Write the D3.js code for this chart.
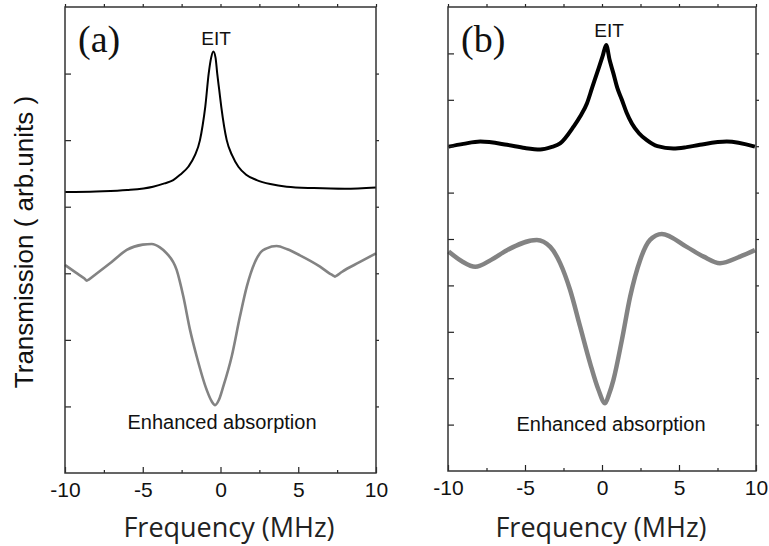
<!DOCTYPE html>
<html>
<head>
<meta charset="utf-8">
<script src="https://cdn.jsdelivr.net/npm/d3@7"></script>
<style>
  body { margin: 0; background: #fff; }
  text { fill: #111; }
</style>
</head>
<body>
<script>
// panel (a): EIT trace (black) and enhanced absorption trace (grey)
var eitA_freq = [-10, -8, -6, -4.34, -3.6, -3.04, -2.6, -2.07, -1.65, -1.32, -1.15, -0.98, -0.76, -0.6, -0.46, -0.32, -0.21, -0.08, 0.05, 0.4, 0.75, 1.15, 1.65, 2.33, 3.2, 4.26, 6, 8, 10]
var eitA_val  = [4.22, 4.23, 4.25, 4.30, 4.35, 4.40, 4.48, 4.60, 4.77, 5.00, 5.22, 5.50, 6.00, 6.24, 6.33, 6.24, 6.00, 5.75, 5.50, 5.00, 4.77, 4.60, 4.48, 4.40, 4.34, 4.30, 4.28, 4.27, 4.29]

var absA_freq = [-10, -9.3, -8.75, -8.6, -8.45, -8.0, -7.0, -6.03, -5.0, -4.42, -3.9, -3.46, -2.82, -2.39, -1.96, -1.53, -0.89, -0.55, -0.35, -0.1, 0.18, 0.72, 1.25, 1.69, 2.22, 2.6, 2.97, 3.61, 4.3, 5.11, 6.4, 7.0, 7.22, 7.36, 7.5, 7.8, 8.97, 10]
var absA_val  = [3.125, 3.01, 2.92, 2.89, 2.91, 2.99, 3.17, 3.35, 3.43, 3.44, 3.39, 3.30, 3.05, 2.65, 2.15, 1.75, 1.25, 1.07, 1.02, 1.10, 1.30, 1.75, 2.35, 2.80, 3.17, 3.32, 3.375, 3.41, 3.36, 3.27, 3.10, 3.00, 2.97, 2.95, 2.97, 3.02, 3.17, 3.30]

// panel (b)
var eitB_freq = [-9.96, -9, -7.9, -6.17, -5, -4.01, -3.3, -2.72, -1.85, -1.4, -0.98, -0.65, -0.33, 0.05, 0.27, 0.5, 0.74, 1.0, 1.29, 1.6, 1.94, 2.4, 2.91, 3.6, 4.63, 5.5, 6.36, 8.1, 9.93]
var eitB_val  = [6.99, 7.05, 7.10, 7.03, 6.96, 6.93, 6.98, 7.06, 7.42, 7.65, 7.92, 8.25, 8.57, 8.95, 9.18, 8.85, 8.57, 8.25, 8.00, 7.72, 7.49, 7.28, 7.13, 7.00, 6.95, 6.98, 7.03, 7.10, 6.99]

var absB_freq = [-9.96, -9.1, -8.23, -7.2, -6.17, -4.23, -3.36, -2.72, -2.07, -1.42, -0.77, -0.23, 0.2, 0.45, 0.74, 1.29, 1.83, 2.48, 3.12, 3.88, 5.5, 6.6, 7.66, 8.96, 9.93]
var absB_val  = [4.73, 4.52, 4.40, 4.55, 4.76, 4.98, 4.83, 4.48, 3.90, 3.11, 2.32, 1.75, 1.46, 1.65, 1.96, 2.82, 3.76, 4.55, 4.98, 5.11, 4.83, 4.62, 4.48, 4.62, 4.76]

var xMajor = [-10, -5, 0, 5, 10]
var xMinor = [-7.5, -2.5, 2.5, 7.5]
var yTicksA = [1, 2, 3, 4, 5, 6]
var yTicksB = [1, 2, 3, 4, 5, 6, 7, 8, 9]

var svg = d3.select("body").append("svg")
  .attr("width", 769)
  .attr("height", 546)

function zip(xs, ys) { return xs.map((x, i) => [x, ys[i]]) }

function panel(opt) {
  var x = d3.scaleLinear().domain([-10, 10]).range([opt.x0, opt.x1])
  var y = d3.scaleLinear().domain([0, opt.ymax]).range([opt.y1, opt.y0])
  var g = svg.append("g")

  var line = d3.line()
    .x(d => x(d[0]))
    .y(d => y(d[1]))
    .curve(d3.curveMonotoneX)

  g.append("path").datum(zip(opt.absF, opt.absV))
    .attr("fill", "none").attr("stroke", "#838383")
    .attr("stroke-width", opt.wGrey).attr("stroke-linejoin", "round")
    .attr("d", line)
  g.append("path").datum(zip(opt.eitF, opt.eitV))
    .attr("fill", "none").attr("stroke", "#000")
    .attr("stroke-width", opt.wBlack).attr("stroke-linejoin", "round")
    .attr("d", line)

  // axes, ticks inward on left and bottom, short outward ticks top and right
  var bottom = g.append("g").attr("transform", "translate(0," + opt.y1 + ")")
    .call(d3.axisBottom(x).tickValues(xMajor).tickSize(-6).tickPadding(9).tickFormat(d => String(d)))
  bottom.selectAll("text").attr("font-family", "Liberation Sans, Arial, sans-serif").attr("font-size", 21).style("fill", "#111")
  g.append("g").attr("transform", "translate(0," + opt.y1 + ")")
    .call(d3.axisBottom(x).tickValues(xMinor).tickSize(-3).tickFormat(""))
  g.append("g").attr("transform", "translate(0," + opt.y0 + ")")
    .call(d3.axisTop(x).tickValues(xMajor.concat(xMinor)).tickSize(3).tickFormat(""))
  g.append("g").attr("transform", "translate(" + opt.x0 + ",0)")
    .call(d3.axisLeft(y).tickValues(opt.yTicks).tickSize(-6).tickFormat(""))
  g.append("g").attr("transform", "translate(" + opt.x1 + ",0)")
    .call(d3.axisRight(y).tickValues(opt.yTicks).tickSize(3).tickFormat(""))
  g.selectAll(".domain").remove()
  g.selectAll(".tick line").attr("stroke", "#222").attr("stroke-width", 1.2)

  g.append("rect")
    .attr("x", opt.x0).attr("y", opt.y0)
    .attr("width", opt.x1 - opt.x0).attr("height", opt.y1 - opt.y0)
    .attr("fill", "none").attr("stroke", "#333").attr("stroke-width", 1.5)

  g.append("text").text(opt.tag)
    .attr("x", opt.x0 + 13).attr("y", opt.y0 + 45)
    .attr("font-family", "Liberation Serif, Times New Roman, serif").attr("font-size", 38)

  g.append("text").text("EIT")
    .attr("x", opt.eitX).attr("y", opt.eitY)
    .attr("text-anchor", "middle")
    .attr("font-family", "Liberation Sans, Arial, sans-serif").attr("font-size", 19)

  g.append("text").text("Enhanced absorption")
    .attr("x", opt.absX).attr("y", opt.absY)
    .attr("text-anchor", "middle")
    .attr("font-family", "Liberation Sans, Arial, sans-serif").attr("font-size", 20)

  g.append("text").text("Frequency (MHz)")
    .attr("x", opt.titleX).attr("y", 537)
    .attr("text-anchor", "middle")
    .attr("font-family", "Open Sans, sans-serif").attr("font-size", 27)
    .style("fill", "#222")
}

panel({
  tag: "(a)", x0: 65, x1: 376, y0: 7, y1: 473, ymax: 7, yTicks: yTicksA,
  eitF: eitA_freq, eitV: eitA_val, absF: absA_freq, absV: absA_val,
  wBlack: 2, wGrey: 2.6,
  eitX: 216, eitY: 45, absX: 222, absY: 429, titleX: 229
})

panel({
  tag: "(b)", x0: 448, x1: 756, y0: 7, y1: 471, ymax: 10, yTicks: yTicksB,
  eitF: eitB_freq, eitV: eitB_val, absF: absB_freq, absV: absB_val,
  wBlack: 4, wGrey: 4.5,
  eitX: 609, eitY: 37, absX: 611, absY: 431, titleX: 601
})

svg.append("text").text("Transmission ( arb.units )")
  .attr("transform", "translate(33,242) rotate(-90)")
  .attr("text-anchor", "middle")
  .attr("font-family", "Liberation Sans, Arial, sans-serif").attr("font-size", 26)
</script>
</body>
</html>
